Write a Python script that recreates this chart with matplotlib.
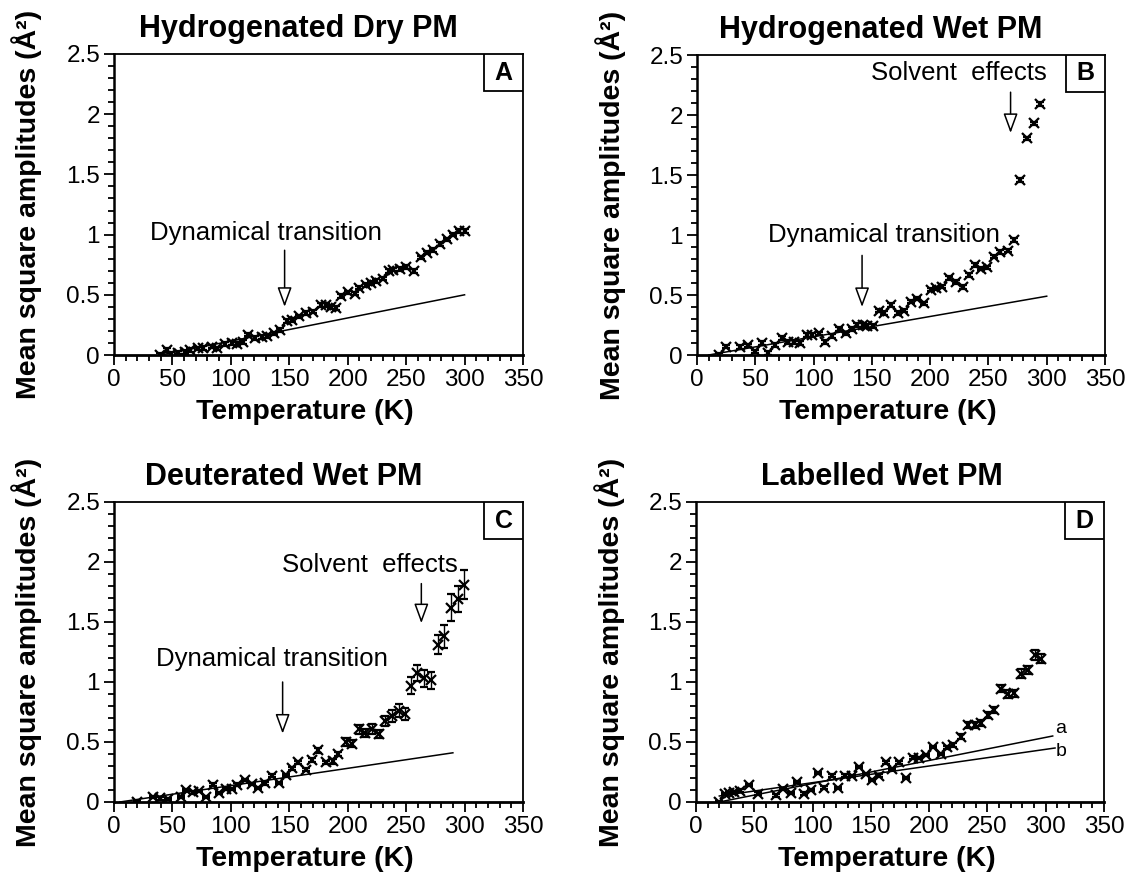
import matplotlib
matplotlib.use("Agg")
import matplotlib.pyplot as plt
from matplotlib.ticker import MultipleLocator, FixedLocator
from matplotlib.patches import Rectangle

plt.rcParams['font.family'] = ['Liberation Sans', 'DejaVu Sans']

# ---------------- data ----------------
titles = ["Hydrogenated Dry PM", "Hydrogenated Wet PM", "Deuterated Wet PM", "Labelled Wet PM"]
panel_letters = ["A", "B", "C", "D"]
ytick_vals = [0, 0.5, 1, 1.5, 2, 2.5]
ytick_labels = ["0", "0.5", "1", "1.5", "2", "2.5"]
xtick_vals = [0, 50, 100, 150, 200, 250, 300, 350]

A_T = [39, 45, 49, 55, 61, 65, 72, 76, 84, 88, 95, 101, 105, 110, 115, 121, 127, 131, 137, 142,
       148, 152, 158, 164, 170, 177, 181, 186, 190, 194, 200, 206, 210, 216, 220, 224, 230, 235,
       239, 245, 250, 257, 263, 268, 273, 279, 285, 290, 295, 300]
A_V = [0.0, 0.04, 0.01, 0.02, 0.025, 0.04, 0.055, 0.06, 0.07, 0.055, 0.09, 0.10, 0.09, 0.11, 0.17,
       0.14, 0.15, 0.155, 0.18, 0.21, 0.28, 0.29, 0.32, 0.35, 0.36, 0.415, 0.415, 0.40, 0.39, 0.49,
       0.52, 0.51, 0.56, 0.58, 0.60, 0.615, 0.635, 0.70, 0.71, 0.715, 0.73, 0.70, 0.81, 0.85, 0.87,
       0.92, 0.96, 1.0, 1.03, 1.03]
A_line_T = [40, 300]
A_line_V = [0.0, 0.5]

B_T = [19, 25, 37, 44, 50, 56, 61, 66.5, 72.7, 78.4, 83, 88.7, 94.4, 99, 104.6, 110, 116, 122,
       127.6, 133, 137.6, 142, 146, 150.6, 156, 160.6, 166, 172, 178, 183.6, 189, 194.6, 200.4,
       205, 210.6, 216, 222, 228, 233.6, 238.8, 243.6, 248.7, 255, 260, 266.6, 272, 277, 283,
       289, 294]
B_V = [0.0, 0.07, 0.065, 0.08, 0.03, 0.10, 0.015, 0.085, 0.14, 0.11, 0.11, 0.10, 0.165, 0.165,
       0.18, 0.11, 0.16, 0.215, 0.18, 0.215, 0.25, 0.25, 0.24, 0.24, 0.37, 0.35, 0.415, 0.35, 0.37,
       0.445, 0.47, 0.43, 0.545, 0.555, 0.57, 0.64, 0.61, 0.565, 0.665, 0.75, 0.72, 0.73, 0.82,
       0.86, 0.87, 0.96, 1.46, 1.805, 1.93, 2.09]
B_line_T = [10, 300]
B_line_V = [0.0, 0.49]

C_T = [19.4, 33, 39, 46, 57, 62, 67.5, 73, 78.7, 84.5, 90, 95.5, 101, 105.6, 112, 118, 123.6,
       129, 135.5, 141, 147, 152, 157.4, 164, 169.5, 174.7, 181, 187, 192, 198.4, 203.6, 209.4,
       215, 220.7, 226.5, 232, 237.8, 243.5, 249, 253.9, 259.6, 265.3, 271, 277, 282.6, 288.4,
       294, 299.3]
C_V = [0.0, 0.04, 0.03, 0.025, 0.04, 0.10, 0.08, 0.09, 0.04, 0.145, 0.075, 0.11, 0.11, 0.145,
       0.185, 0.15, 0.115, 0.155, 0.22, 0.16, 0.225, 0.28, 0.33, 0.27, 0.35, 0.43, 0.33, 0.34,
       0.40, 0.50, 0.485, 0.605, 0.575, 0.61, 0.565, 0.675, 0.72, 0.76, 0.73, 0.97, 1.075, 1.03,
       1.015, 1.31, 1.38, 1.62, 1.69, 1.81]
C_err = [0.01, 0.01, 0.01, 0.01, 0.01, 0.01, 0.01, 0.01, 0.01, 0.01, 0.01, 0.01, 0.01, 0.01,
         0.01, 0.01, 0.01, 0.01, 0.01, 0.01, 0.012, 0.012, 0.012, 0.015, 0.015, 0.02, 0.015,
         0.02, 0.02, 0.03, 0.03, 0.04, 0.035, 0.04, 0.035, 0.04, 0.05, 0.055, 0.05, 0.07, 0.07,
         0.07, 0.07, 0.08, 0.095, 0.11, 0.11, 0.12]
C_line_T = [5, 290]
C_line_V = [0.0, 0.41]

D_T = [20, 25, 28.6, 32.6, 37.7, 45.4, 52.9, 69, 75, 81.6, 86.4, 92.7, 98.7, 104.4, 110, 116.4,
       122, 127.8, 133.5, 139.8, 145.5, 151, 157, 162.7, 168.4, 174, 180, 186, 191.6, 197.3,
       203.6, 210, 215, 220.8, 227, 233.3, 239, 244.8, 250.2, 256, 261.6, 267.4, 273, 278.8,
       284.5, 290.8, 296]
D_V = [0.0, 0.065, 0.075, 0.08, 0.095, 0.14, 0.07, 0.055, 0.11, 0.075, 0.165, 0.07, 0.10, 0.24,
       0.12, 0.22, 0.115, 0.22, 0.215, 0.29, 0.235, 0.185, 0.22, 0.33, 0.275, 0.33, 0.20, 0.37,
       0.365, 0.39, 0.46, 0.40, 0.455, 0.475, 0.545, 0.645, 0.64, 0.655, 0.725, 0.77, 0.945,
       0.90, 0.905, 1.07, 1.10, 1.225, 1.195]
D_err = [0.01] * 33 + [0.02, 0.02, 0.025, 0.025, 0.025, 0.025, 0.025, 0.03, 0.03, 0.03, 0.035,
                       0.035, 0.04, 0.035]
D_line_a_T = [20, 306]
D_line_a_V = [0.0, 0.55]
D_line_b_T = [20, 308]
D_line_b_V = [0.05, 0.45]

# ---------------- figure ----------------
W, H = 1129, 873
fig = plt.figure(figsize=(W / 100, H / 100), dpi=100)

def px_axes(left, top, right, bottom):
    return fig.add_axes([left / W, 1 - bottom / H, (right - left) / W, (bottom - top) / H])

axA = px_axes(114, 54, 523, 355)
axB = px_axes(697, 55, 1105, 355)
axC = px_axes(114, 502, 523, 802)
axD = px_axes(696, 502, 1104, 802)
axes = [axA, axB, axC, axD]
title_x = [0.451, 0.449, 0.415, 0.456]

for ax, title, letter, tx in zip(axes, titles, panel_letters, title_x):
    ax.set_xlim(0, 350)
    ax.set_ylim(0, 2.5)
    ax.xaxis.set_major_locator(FixedLocator(xtick_vals))
    ax.xaxis.set_minor_locator(MultipleLocator(10))
    ax.yaxis.set_major_locator(FixedLocator(ytick_vals))
    ax.set_yticklabels(ytick_labels)
    ax.yaxis.set_minor_locator(MultipleLocator(0.1))
    ax.tick_params(which='both', direction='out', top=False, right=False,
                   width=1.3, labelsize=17.5, pad=3)
    ax.tick_params(which='major', length=7)
    ax.tick_params(which='minor', length=4)
    for s in ax.spines.values():
        s.set_linewidth(1.3)
    ax.spines['bottom'].set_linewidth(2)
    ax.spines['left'].set_linewidth(1.8)
    ax.set_xlabel("Temperature (K)", fontsize=20.5, fontweight='bold')
    ax.set_ylabel("Mean square amplitudes (Å²)", fontsize=20.5, fontweight='bold')
    ax.xaxis.set_label_coords(0.467, -0.147)
    ax.yaxis.set_label_coords(-0.175, 0.5)
    ax.text(tx, 1.057, title, transform=ax.transAxes, ha='center', va='baseline',
            fontsize=22, fontweight='bold')
    bw, bh = 39 / 409, 37 / 300
    ax.add_patch(Rectangle((1 - bw, 1 - bh), bw, bh, transform=ax.transAxes,
                           facecolor='white', edgecolor='black', lw=1.3, zorder=5))
    ax.text(1 - bw / 2, 1 - bh / 2, letter, transform=ax.transAxes, ha='center',
            va='center', fontsize=18, fontweight='bold', zorder=6)

mk = dict(fmt='x', color='black', ms=7, mew=1.6, capsize=3, elinewidth=1.0,
          capthick=1.4, zorder=3)
arrow = dict(arrowstyle='-|>,head_length=0.6,head_width=0.22', fc='white', ec='black',
             lw=1.1, mutation_scale=20, shrinkA=0, shrinkB=0)
afs = 18.5

# Panel A
axA.plot(A_line_T, A_line_V, color='black', lw=1.1)
axA.errorbar(A_T, A_V, yerr=0.015, **mk)
axA.text(130, 1.01, "Dynamical transition", ha='center', va='center', fontsize=afs)
axA.annotate('', xy=(146, 0.40), xytext=(146, 0.87), arrowprops=arrow)

# Panel B
axB.plot(B_line_T, B_line_V, color='black', lw=1.1)
axB.errorbar(B_T, B_V, yerr=0.015, **mk)
axB.text(160, 1.0, "Dynamical transition", ha='center', va='center', fontsize=afs)
axB.annotate('', xy=(141.6, 0.40), xytext=(141.6, 0.83), arrowprops=arrow)
axB.text(225, 2.35, "Solvent  effects", ha='center', va='center', fontsize=afs)
axB.annotate('', xy=(269, 1.85), xytext=(269, 2.19), arrowprops=arrow)

# Panel C
axC.plot(C_line_T, C_line_V, color='black', lw=1.1)
axC.errorbar(C_T, C_V, yerr=C_err, **mk)
axC.text(135, 1.19, "Dynamical transition", ha='center', va='center', fontsize=afs)
axC.annotate('', xy=(144.3, 0.57), xytext=(144.3, 1.0), arrowprops=arrow)
axC.text(219, 1.975, "Solvent  effects", ha='center', va='center', fontsize=afs)
axC.annotate('', xy=(263, 1.49), xytext=(263, 1.82), arrowprops=arrow)

# Panel D
axD.plot(D_line_a_T, D_line_a_V, color='black', lw=1.1)
axD.plot(D_line_b_T, D_line_b_V, color='black', lw=1.1)
axD.errorbar(D_T, D_V, yerr=D_err, **mk)
axD.text(313, 0.61, "a", ha='center', va='center', fontsize=14)
axD.text(313, 0.42, "b", ha='center', va='center', fontsize=14)

fig.savefig("out.png", dpi=100)
